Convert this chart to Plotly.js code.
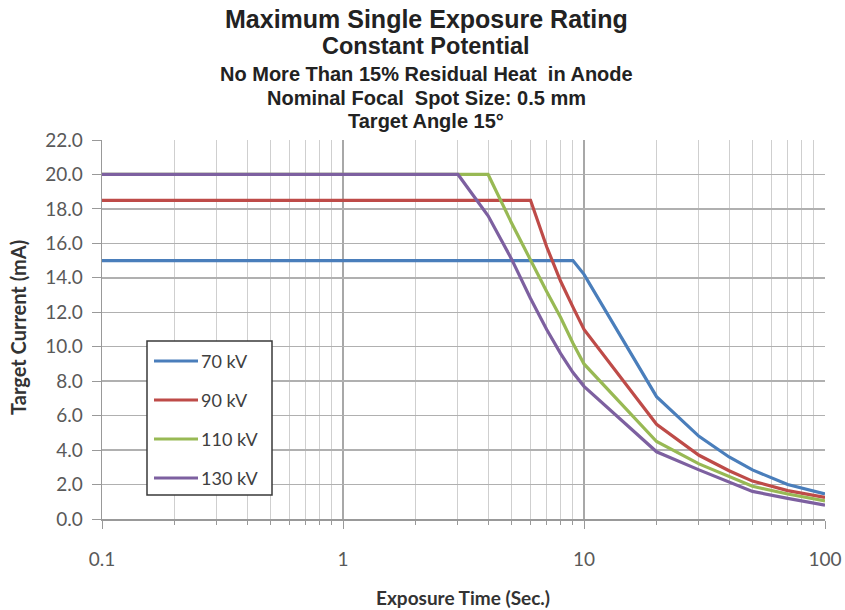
<!DOCTYPE html>
<html>
<head>
<meta charset="utf-8">
<script src="https://cdn.plot.ly/plotly-3.0.1.min.js"></script>
<style>
html,body{margin:0;padding:0;background:#fff;}
#chart{width:845px;height:610px;}
</style>
</head>
<body>
<div id="chart"></div>
<script>
// Data
var seriesNames = ["70 kV", "90 kV", "110 kV", "130 kV"];

var t70 = [0.1, 9, 10, 20, 30, 40, 50, 70, 100];
var i70 = [15, 15, 14.2, 7.1, 4.8, 3.6, 2.85, 2.0, 1.45];

var t90 = [0.1, 6, 7, 8, 9, 10, 20, 30, 40, 50, 70, 100];
var i90 = [18.5, 18.5, 15.8, 13.8, 12.3, 11.0, 5.5, 3.7, 2.8, 2.2, 1.65, 1.25];

var t110 = [0.1, 4, 5, 6, 7, 8, 9, 10, 20, 30, 40, 50, 70, 100];
var i110 = [20, 20, 17.2, 15.0, 13.2, 11.7, 10.2, 9.0, 4.5, 3.2, 2.45, 1.9, 1.45, 1.05];

var t130 = [0.1, 3, 4, 5, 6, 7, 8, 9, 10, 20, 30, 40, 50, 70, 100];
var i130 = [20, 20, 17.6, 15.1, 12.8, 11.0, 9.6, 8.5, 7.7, 3.9, 2.85, 2.15, 1.6, 1.2, 0.8];

var xTickVals = [0.1, 1, 10, 100];
var xTickText = ["0.1", "1", "10", "100"];
var yTickVals = [0, 2, 4, 6, 8, 10, 12, 14, 16, 18, 20, 22];
var yTickText = ["0.0", "2.0", "4.0", "6.0", "8.0", "10.0", "12.0", "14.0", "16.0", "18.0", "20.0", "22.0"];

var titleLines = [
  "Maximum Single Exposure Rating",
  "Constant Potential",
  "No More Than 15% Residual Heat  in Anode",
  "Nominal Focal  Spot Size: 0.5 mm",
  "Target Angle 15°"
];
var xTitle = "Exposure Time (Sec.)";
var yTitle = "Target Current (mA)";

var colors = ["#4a7ebb", "#be4b48", "#98b954", "#7d60a0"];
var xs = [t70, t90, t110, t130];
var ys = [i70, i90, i110, i130];

var traces = xs.map(function(x, k){
  return {
    x: x, y: ys[k], name: seriesNames[k], type: "scatter", mode: "lines",
    line: {color: colors[k], width: 3.2}, showlegend: false
  };
});

var M = {l: 102, r: 20, t: 140, b: 91};
var plotW = 845 - M.l - M.r;
var plotH = 610 - M.t - M.b;
function px(p){ return (p - M.l) / plotW; }
function py(p){ return (610 - M.b - p) / plotH; }

var titleFont = "Liberation Sans, Arial, sans-serif";
var bodyFont = "Lato, sans-serif";
var annotations = [];
var shapes = [];
var tY = [19, 46, 74, 98, 121];
var tS = [25, 23.5, 20, 20, 20];
titleLines.forEach(function(s, k){
  annotations.push({
    text: "<b>" + s + "</b>", xref: "paper", yref: "paper",
    x: px(426), y: py(tY[k]), xanchor: "center", yanchor: "middle",
    showarrow: false, font: {family: titleFont, size: tS[k], color: "#222"}
  });
});
annotations.push({
  text: "<b>" + xTitle + "</b>", xref: "paper", yref: "paper",
  x: px(463), y: py(597), xanchor: "center", yanchor: "middle",
  showarrow: false, font: {family: bodyFont, size: 19, color: "#333"}
});
annotations.push({
  text: "<b>" + yTitle + "</b>", xref: "paper", yref: "paper",
  x: px(18), y: py(328), xanchor: "center", yanchor: "middle",
  textangle: -90, showarrow: false, font: {family: bodyFont, size: 20, color: "#333"}
});

// custom legend box (Excel style)
shapes.push({type: "rect", xref: "paper", yref: "paper",
  x0: px(147), x1: px(272), y0: py(341), y1: py(495),
  line: {color: "#3a3a3a", width: 1.5}, fillcolor: "#fff", layer: "above"});
var legY = [361, 400, 439, 478];
seriesNames.forEach(function(n, k){
  shapes.push({type: "line", xref: "paper", yref: "paper",
    x0: px(154), x1: px(198), y0: py(legY[k]), y1: py(legY[k]),
    line: {color: colors[k], width: 3}, layer: "above"});
  annotations.push({
    text: n, xref: "paper", yref: "paper", x: px(199), y: py(legY[k]),
    xanchor: "left", yanchor: "middle", showarrow: false,
    font: {family: bodyFont, size: 18, color: "#404040"}
  });
});

var layout = {
  width: 845, height: 610,
  margin: M,
  paper_bgcolor: "#fff", plot_bgcolor: "#fff",
  showlegend: false,
  xaxis: {
    type: "log", range: [-1, 2],
    tickvals: xTickVals, ticktext: xTickText,
    showgrid: true, gridcolor: "#a8a8a8", gridwidth: 1.5,
    minor: {showgrid: true, dtick: "D1", gridcolor: "#cfcfcf", gridwidth: 1, ticks: "outside", ticklen: 4, tickcolor: "#999"},
    ticks: "outside", ticklen: 8, tickcolor: "#999",
    showline: true, linecolor: "#999", linewidth: 1.5,
    ticklabelstandoff: 15,
    tickfont: {family: bodyFont, size: 19, color: "#595959"},
    zeroline: false
  },
  yaxis: {
    range: [0, 22],
    tickvals: yTickVals, ticktext: yTickText,
    showgrid: true, gridcolor: "#b0b0b0", gridwidth: 1.5,
    ticks: "outside", ticklen: 9, tickcolor: "#999",
    showline: true, linecolor: "#999", linewidth: 1.5,
    ticklabelstandoff: 5,
    tickfont: {family: bodyFont, size: 19, color: "#595959"},
    zeroline: false
  },
  shapes: shapes,
  annotations: annotations
};

Plotly.newPlot("chart", traces, layout, {displayModeBar: false, staticPlot: true});
</script>
</body>
</html>
